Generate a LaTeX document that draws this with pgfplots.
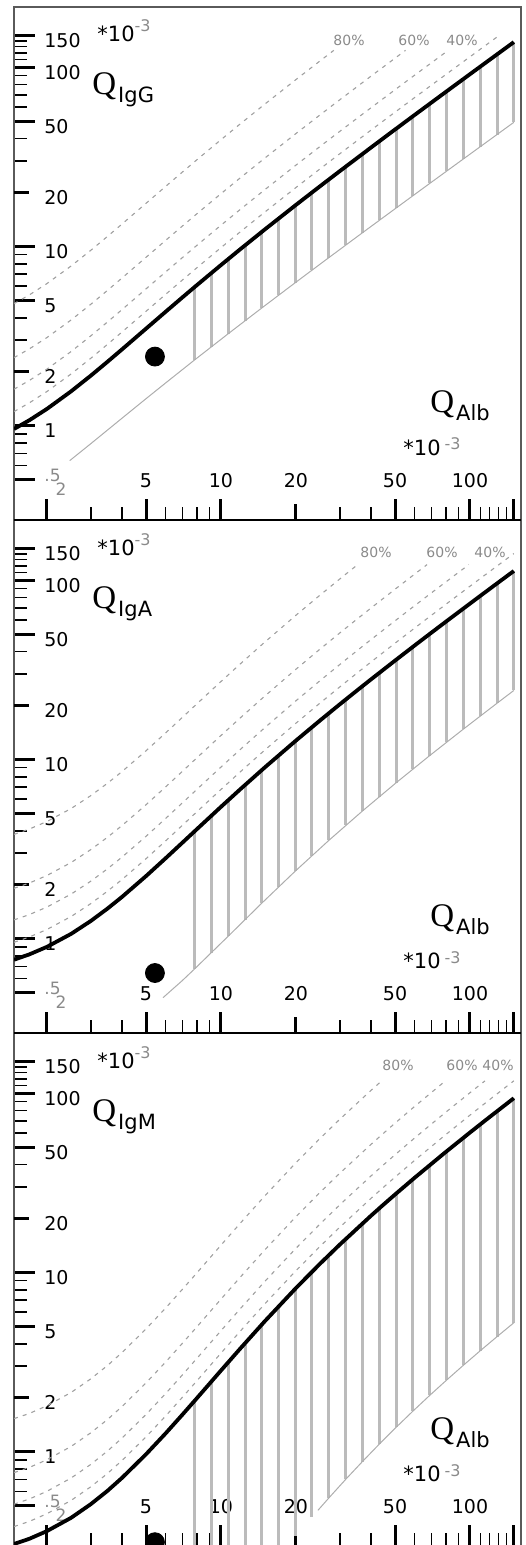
\documentclass[border=0pt]{standalone}
\usepackage{pgfplots}
\pgfplotsset{compat=1.18}
\usepackage{pgfplotstable}
\usepackage{fontspec}
\setmainfont{DejaVu Sans}
\newfontfamily\qfont{Liberation Serif}
\definecolor{hatchc}{HTML}{BBBBBB}
\definecolor{dashc}{HTML}{A0A0A0}
\definecolor{lowc}{HTML}{ADADAD}
\definecolor{framec}{HTML}{5A5A5A}
\definecolor{labc}{HTML}{8A8A8A}

% upper limit curves (x = QAlb, q = Qlim, both *10^-3)
\pgfplotstableread{
x q
1.475 0.959
1.7 1.073
2 1.241
2.5 1.555
3 1.902
3.5 2.273
4 2.662
5 3.478
6 4.327
7 5.197
8 6.081
10 7.875
12 9.690
15 12.435
20 17.039
25 21.661
28.389 24.8
30 26.293
40 35.570
50 44.856
55.107 49.6
60 54.147
80 72.735
81.792 74.4
100 91.328
120 109.923
130.84 120.0
150 137.819
}\limG
\pgfplotstableread{
x q
1.475 0.764
1.7 0.818
2 0.901
2.5 1.064
3 1.256
3.5 1.472
4 1.709
5 2.235
6 2.815
7 3.434
8 4.082
10 5.440
12 6.851
15 9.026
20 12.737
25 16.501
30 20.293
35.39 24.4
40 27.921
50 35.577
60 43.247
67.23 48.8
80 58.611
98.97 73.2
100 73.989
120 89.374
150 112.459
}\limA
\pgfplotstableread{
x q
1.475 0.306
1.7 0.327
2 0.361
2.5 0.428
3 0.510
3.5 0.605
4 0.714
5 0.968
6 1.268
7 1.610
8 1.988
10 2.838
12 3.786
15 5.345
20 8.178
25 11.187
30 14.298
40 20.687
44.185 23.4
50 27.195
60 33.765
79.698 46.8
80 47.000
100 60.301
114.85 70.2
120 73.634
150 93.667
}\limM

\newcommand{\topexp}{{\fontsize{10.5}{12}\selectfont *10}{\fontsize{8}{9}\selectfont\color{labc}\raisebox{5pt}{-3}}}
\newcommand{\botexp}{{\fontsize{10.5}{12}\selectfont *10}\hspace{2pt}{\fontsize{8}{9}\selectfont\color{labc}\raisebox{2.5pt}{-3}}}
\newcommand{\qlab}[1]{{\qfont\fontsize{16.5}{18}\selectfont Q}\hspace{1pt}\raisebox{-4pt}{\fontsize{10.5}{12}\selectfont #1}}
\newcommand{\pct}[1]{{\fontsize{7}{8}\selectfont\color{labc}#1\%}}
\newcommand{\twolab}{\raisebox{-4pt}{\hspace*{14pt}\color{labc}\fontsize{8.5}{9}\selectfont 2}}
\newcommand{\halflab}{\raisebox{5pt}{\color{labc}\fontsize{8.5}{9}\selectfont .5}}

% common axis settings for the three panels
\pgfplotsset{
  scale only axis, width=253.5pt, height=256.5pt,
  xmin=1.475, xmax=160.3, ymin=0.298, ymax=216.4,
  axis line style={framec, line width=1pt},
  unbounded coords=jump,
  tick align=inside, xtick pos=left, ytick pos=left,
  major tick length=10.5pt, minor tick length=6.5pt,
  every major tick/.append style={black, line width=1.5pt},
  every minor tick/.append style={black, line width=0.75pt},
  xtick={2,5,10,50,100,150},
  xticklabels={\twolab,5,10,50,100,{}},
  extra x ticks={20}, extra x tick labels={20},
  extra x tick style={major tick length=8pt},
  minor xtick={3,4,6,7,8,9,30,40,60,70,80,90,110,120,130,140},
  ytick={0.5,1,5,10,50,100,150},
  yticklabels={\halflab,1,5,10,50,100,150},
  extra y ticks={2,20}, extra y tick labels={2,20},
  extra y tick style={major tick length=7.5pt},
  minor ytick={0.6,0.7,0.8,0.9,3,4,6,7,8,9,30,40,60,70,80,90,110,120,130,140},
  ticklabel style={font=\fontsize{9.5}{10}\selectfont, inner sep=0pt},
  xticklabel style={anchor=base, yshift=16.25pt},
  yticklabel style={anchor=base west, xshift=15pt, yshift=-6pt},
}

\begin{document}
\begin{tikzpicture}[
  hatchl/.style={hatchc, line width=1.5pt},
  lowline/.style={lowc, line width=0.5pt},
  dashl/.style={dashc, line width=0.55pt, dash pattern=on 2pt off 2.6pt},
  limline/.style={black, line width=1.9pt, line join=round},
  ptmark/.style={only marks, mark=*, mark size=4.75pt, black}]
\path[use as bounding box] (0,0) rectangle (262.5pt,-772.5pt);

% IgG
\begin{loglogaxis}[at={(7pt,-3.5pt)}, anchor=north west]
\addplot[hatchl] coordinates {
(7.83,2.326) (7.83,5.930) (7.83,nan) (9.14,2.752) (9.14,7.100) (9.14,nan)
(10.7,3.262) (10.7,8.509) (10.7,nan) (12.5,3.851) (12.5,10.146) (12.5,nan)
(14.6,4.541) (14.6,12.068) (14.6,nan) (17.0,5.329) (17.0,14.273) (17.0,nan)
(19.9,6.284) (19.9,16.947) (19.9,nan) (23.2,7.370) (23.2,19.996) (23.2,nan)
(27.1,8.655) (27.1,23.606) (27.1,nan) (31.7,10.171) (31.7,27.869) (31.7,nan)
(37.0,11.919) (37.0,32.785) (37.0,nan) (43.2,13.964) (43.2,38.540) (43.2,nan)
(50.5,16.372) (50.5,45.320) (50.5,nan) (59.0,19.176) (59.0,53.217) (59.0,nan)
(68.9,22.442) (68.9,62.418) (68.9,nan) (80.5,26.269) (80.5,73.200) (80.5,nan)
(94.1,30.757) (94.1,85.843) (94.1,nan) (109.9,35.970) (109.9,100.532) (109.9,nan)
(128.4,42.075) (128.4,117.734) (128.4,nan) (150,49.202) (150,137.819)};
\addplot[lowline] coordinates {(2.47,0.639) (3,0.794) (4,1.100) (5,1.415) (6,1.734)
  (7.83,2.326) (10.7,3.262) (14.6,4.541) (19.9,6.284) (27.1,8.655) (37,11.919)
  (50.5,16.372) (68.9,22.442) (94.1,30.757) (128.4,42.075) (150,49.202)};
\addplot[dashl, skip coords between index={17}{100}] table[x=x, y expr=\thisrow{q}*5] {\limG};
\addplot[dashl, skip coords between index={21}{100}] table[x=x, y expr=\thisrow{q}*2.5] {\limG};
\addplot[dashl, skip coords between index={24}{100}] table[x=x, y expr=\thisrow{q}*1.6667] {\limG};
\addplot[dashl, skip coords between index={27}{100}] table[x=x, y expr=\thisrow{q}*1.25] {\limG};
\addplot[limline] table[x=x, y=q] {\limG};
\addplot[ptmark] coordinates {(5.43,2.43)};
\end{loglogaxis}

% IgA
\begin{loglogaxis}[at={(7pt,-260pt)}, anchor=north west]
\addplot[hatchl] coordinates {
(7.83,0.678) (7.83,3.970) (7.83,nan) (9.14,0.834) (9.14,4.848) (9.14,nan)
(10.7,1.034) (10.7,5.929) (10.7,nan) (12.5,1.280) (12.5,7.209) (12.5,nan)
(14.6,1.581) (14.6,8.733) (14.6,nan) (17.0,1.939) (17.0,10.501) (17.0,nan)
(19.9,2.386) (19.9,12.662) (19.9,nan) (23.2,2.906) (23.2,15.142) (23.2,nan)
(27.1,3.534) (27.1,18.091) (27.1,nan) (31.7,4.284) (31.7,21.587) (31.7,nan)
(37.0,5.158) (37.0,25.629) (37.0,nan) (43.2,6.188) (43.2,30.369) (43.2,nan)
(50.5,7.409) (50.5,35.960) (50.5,nan) (59.0,8.836) (59.0,42.480) (59.0,nan)
(68.9,10.504) (68.9,50.082) (68.9,nan) (80.5,12.463) (80.5,58.995) (80.5,nan)
(94.1,14.764) (94.1,69.451) (94.1,nan) (109.9,17.440) (109.9,81.604) (109.9,nan)
(128.4,20.577) (128.4,95.837) (128.4,nan) (150,24.242) (150,112.459)};
\addplot[lowline] coordinates {(5.85,0.469) (7,0.585) (7.83,0.678) (10.7,1.034)
  (14.6,1.581) (19.9,2.386) (27.1,3.534) (37,5.158) (50.5,7.409) (68.9,10.504)
  (94.1,14.764) (128.4,20.577) (150,24.242)};
\addplot[dashl, skip coords between index={18}{100}] table[x=x, y expr=\thisrow{q}*5] {\limA};
\addplot[dashl, skip coords between index={22}{100}] table[x=x, y expr=\thisrow{q}*2.5] {\limA};
\addplot[dashl, skip coords between index={24}{100}] table[x=x, y expr=\thisrow{q}*1.6667] {\limA};
\addplot[dashl] table[x=x, y expr=\thisrow{q}*1.25] {\limA};
\addplot[limline] table[x=x, y=q] {\limA};
\addplot[ptmark] coordinates {(5.43,0.644)};
\end{loglogaxis}

% IgM
\begin{loglogaxis}[at={(7pt,-516.5pt)}, anchor=north west]
\addplot[hatchl] coordinates {
(7.83,0.0774) (7.83,1.922) (7.83,nan) (9.14,0.097) (9.14,2.459) (9.14,nan)
(10.7,0.1236) (10.7,3.160) (10.7,nan) (12.5,0.1584) (12.5,4.036) (12.5,nan)
(14.6,0.2038) (14.6,5.129) (14.6,nan) (17.0,0.2615) (17.0,6.450) (17.0,nan)
(19.9,0.3379) (19.9,8.120) (19.9,nan) (23.2,0.4324) (23.2,10.090) (23.2,nan)
(27.1,0.5520) (27.1,12.484) (27.1,nan) (31.7,0.7015) (31.7,15.371) (31.7,nan)
(37.0,0.8822) (37.0,18.754) (37.0,nan) (43.2,1.1018) (43.2,22.760) (43.2,nan)
(50.5,1.368) (50.5,27.522) (50.5,nan) (59.0,1.685) (59.0,33.105) (59.0,nan)
(68.9,2.061) (68.9,39.643) (68.9,nan) (80.5,2.508) (80.5,47.332) (80.5,nan)
(94.1,3.037) (94.1,56.373) (94.1,nan) (109.9,3.656) (109.9,66.898) (109.9,nan)
(128.4,4.384) (128.4,79.240) (128.4,nan) (150,5.239) (150,93.667)};
\addplot[lowline] coordinates {(24.5,0.471) (27.1,0.552) (31.7,0.702) (37,0.882)
  (43.2,1.102) (50.5,1.368) (59,1.685) (68.9,2.061) (80.5,2.508) (94.1,3.037)
  (109.9,3.656) (128.4,4.384) (150,5.239)};
\addplot[dashl, skip coords between index={19}{100}] table[x=x, y expr=\thisrow{q}*5] {\limM};
\addplot[dashl, skip coords between index={22}{100}] table[x=x, y expr=\thisrow{q}*2.5] {\limM};
\addplot[dashl, skip coords between index={25}{100}] table[x=x, y expr=\thisrow{q}*1.6667] {\limM};
\addplot[dashl] table[x=x, y expr=\thisrow{q}*1.25] {\limM};
\addplot[limline] table[x=x, y=q] {\limM};
\addplot[ptmark] coordinates {(5.43,0.313)};
\end{loglogaxis}

% x axis lines between the panels
\draw[black, line width=1.2pt] (7pt,-260pt) -- (260.5pt,-260pt);
\draw[black, line width=1.2pt] (7pt,-516.5pt) -- (260.5pt,-516.5pt);

% labels
\begin{scope}[every node/.style={inner sep=0pt}]
\node[anchor=base west] at (48.5pt,-21pt) {\topexp};
\node[anchor=base west] at (46pt,-47.5pt) {\qlab{IgG}};
\node[anchor=base west] at (215pt,-206.5pt) {\qlab{Alb}};
\node[anchor=base west] at (201.5pt,-227.5pt) {\botexp};
\node at (174.5pt,-20pt) {\pct{80}};
\node at (207pt,-20pt) {\pct{60}};
\node at (231pt,-20pt) {\pct{40}};

\node[anchor=base west] at (48.5pt,-277.5pt) {\topexp};
\node[anchor=base west] at (46pt,-304pt) {\qlab{IgA}};
\node[anchor=base west] at (215pt,-463pt) {\qlab{Alb}};
\node[anchor=base west] at (201.5pt,-484pt) {\botexp};
\node at (188pt,-276pt) {\pct{80}};
\node at (221pt,-276pt) {\pct{60}};
\node at (245pt,-276pt) {\pct{40}};

\node[anchor=base west] at (48.5pt,-534pt) {\topexp};
\node[anchor=base west] at (46pt,-560.5pt) {\qlab{IgM}};
\node[anchor=base west] at (215pt,-719.5pt) {\qlab{Alb}};
\node[anchor=base west] at (201.5pt,-740.5pt) {\botexp};
\node at (199pt,-532.5pt) {\pct{80}};
\node at (231pt,-532.5pt) {\pct{60}};
\node at (249pt,-532.5pt) {\pct{40}};
\end{scope}
\end{tikzpicture}
\end{document}
